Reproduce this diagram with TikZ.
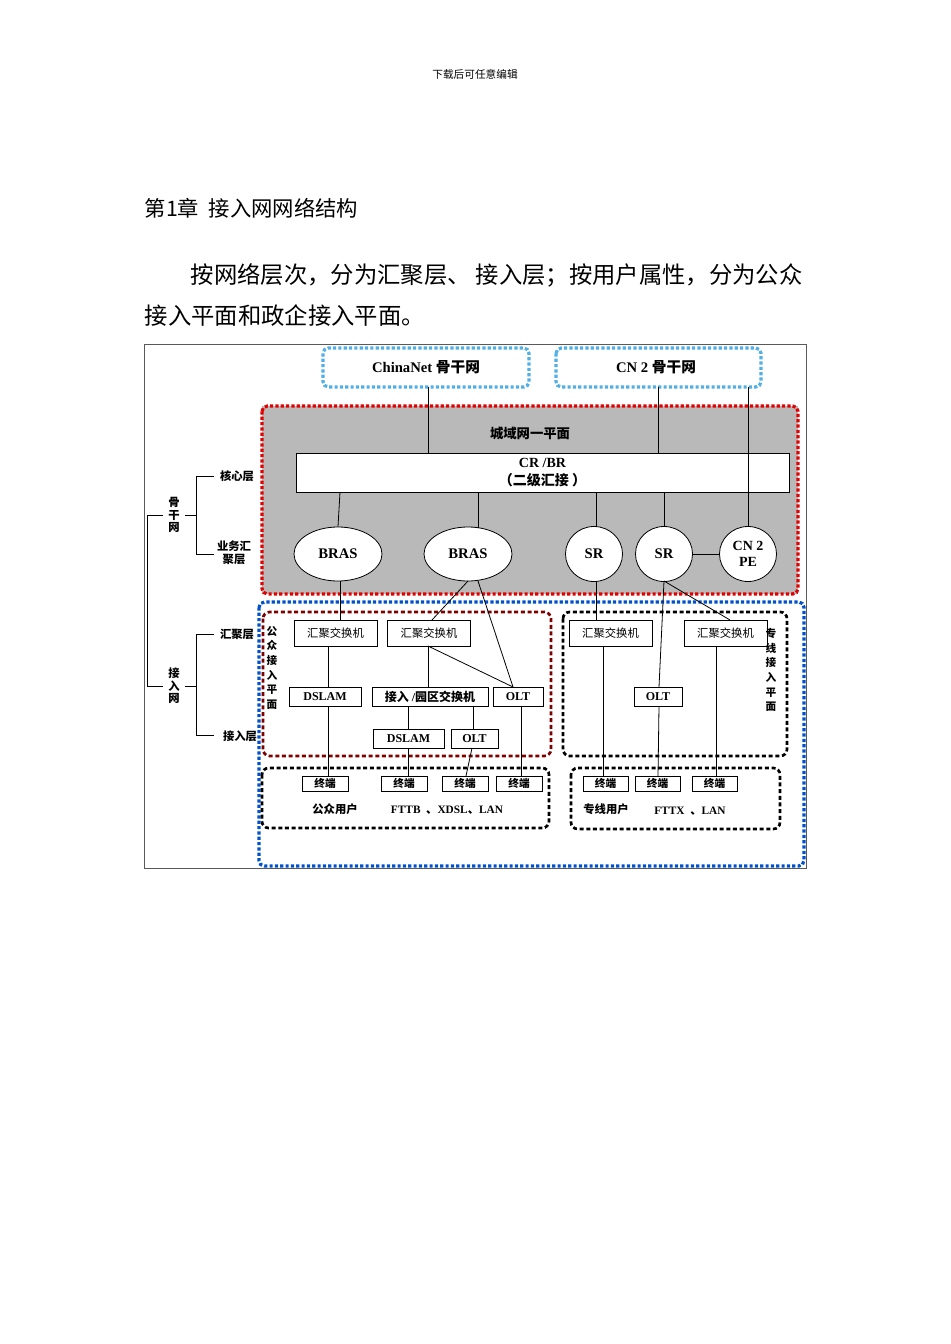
\documentclass[tikz,border=0pt]{standalone}
\usepackage{fontspec}
\setmainfont{Liberation Serif}
\newfontfamily\cjk{Noto Sans CJK SC}
\usetikzlibrary{shapes.geometric}
\begin{document}
\begin{tikzpicture}[x=0.75pt,y=-0.75pt,
  box/.style={draw,fill=white,line width=0.6pt,inner sep=0pt},
  oval/.style={draw,fill=white,ellipse,line width=0.6pt,inner sep=0pt,font=\bfseries\fontsize{11}{12}\selectfont},
  dotc/.style={line width=2.4pt,dash pattern=on 2.4pt off 1.6pt,rounded corners=4pt},
  dashk/.style={line width=2pt,dash pattern=on 3pt off 2pt,rounded corners=5pt},
  ln/.style={line width=0.6pt},
  sm/.style={font=\cjk\bfseries\fontsize{8.5}{9.5}\selectfont,inner sep=0pt},
  vt/.style={font=\cjk\bfseries\fontsize{8.5}{9.5}\selectfont,align=center,inner sep=0pt}]
\useasboundingbox (0,0) rectangle (950,1344);
\fill[white] (0,0) rectangle (950,1344);
% page text
\node (hdr) at (475,74) {\cjk\fontsize{8}{9}\selectfont 下载后可任意编辑};
\node[anchor=west] (ttl) at (140,208) {\cjk\fontsize{16}{18}\selectfont 第1章\ \ 接入网网络结构};
\node[anchor=west] (p1) at (186,275) {\cjk\fontsize{17.5}{20}\selectfont 按网络层次，分为汇聚层、 接入层；按用户属性，分为公众};
\node[anchor=west] (p2) at (140,316) {\cjk\fontsize{17.5}{20}\selectfont 接入平面和政企接入平面。};
% frame
\draw[gray!70!black,line width=0.6pt] (144,344) rectangle (806,868);
% backbone boxes
\draw[dotc,cyan!80!blue!70] (323,348) rectangle (529,387);
\node (cn) at (426,367) {\bfseries\fontsize{11}{12}\selectfont ChinaNet {\cjk 骨干网}};
\draw[dotc,cyan!80!blue!70] (556,348) rectangle (761,387);
\node (cn2) at (656,367) {\bfseries\fontsize{11}{12}\selectfont CN 2 {\cjk 骨干网}};
% metro plane
\fill[gray!55] (262,406) rectangle (798,594);
\draw[dotc,red!90!black] (262,406) rectangle (798,594);
\node (mp) at (530,433) {\cjk\bfseries\fontsize{10}{11}\selectfont 城域网一平面};
\node[box,minimum width=493*0.75pt,minimum height=39*0.75pt,align=center,font=\bfseries\fontsize{10.5}{14}\selectfont] (crbr) at (542.5,472.5) {CR /BR\\{\cjk （二级汇接 ）}};
\node[oval,minimum width=88*0.75pt,minimum height=54*0.75pt] (bras1) at (338,554) {BRAS};
\node[oval,minimum width=88*0.75pt,minimum height=54*0.75pt] (bras2) at (468,554) {BRAS};
\node[oval,minimum width=57*0.75pt,minimum height=55*0.75pt] (sr1) at (594,554) {SR};
\node[oval,minimum width=57*0.75pt,minimum height=55*0.75pt] (sr2) at (664,554) {SR};
\node[oval,minimum width=57*0.75pt,minimum height=55*0.75pt,align=center,font=\bfseries\fontsize{10.5}{12}\selectfont] (pe) at (748,554) {CN 2\\PE};
\draw[ln] (428,387) -- (428,453);
\draw[ln] (658,387) -- (658,453);
\draw[ln] (748,387) -- (pe.north);
\draw[ln] (340,492) -- (bras1.north);
\draw[ln] (478,492) -- (478,527.5);
\draw[ln] (596,492) -- (596,526.5);
\draw[ln] (664,492) -- (sr2.north);
\draw[ln] (sr2.east) -- (pe.west);
% access
\draw[dotc,blue!60!cyan!80!black] (259,602) rectangle (804,866);
\draw[line width=2pt,dash pattern=on 3pt off 2pt,red!50!black,rounded corners=5pt] (263,612) rectangle (551,756);
\draw[dashk] (563,612) rectangle (787,756);
\draw[dashk] (262,768) rectangle (549,828);
\draw[dashk] (571,768) rectangle (780,829);
\tikzset{sw/.style={box,minimum width=83*0.75pt,minimum height=26*0.75pt,font=\cjk\fontsize{8.5}{9}\selectfont}}
\node[sw] (l1) at (335.5,633) {汇聚交换机};
\node[sw] (l2) at (429,633) {汇聚交换机};
\node[sw] (r1) at (610.5,633) {汇聚交换机};
\node[sw] (r2) at (725.5,633) {汇聚交换机};
\tikzset{eq/.style={box,minimum height=19*0.75pt,font=\bfseries\fontsize{9}{10}\selectfont}}
\node[eq,minimum width=72*0.75pt] (ds1) at (325,696.5) {DSLAM};
\node[eq,minimum width=116*0.75pt] (asw) at (430,696.5) {{\cjk 接入} /{\cjk 园区交换机}};
\node[eq,minimum width=50*0.75pt] (olt1) at (518,696.5) {OLT};
\node[eq,minimum width=48*0.75pt] (olt2) at (658,696.5) {OLT};
\node[eq,minimum width=71*0.75pt] (ds2) at (408.5,738.5) {DSLAM};
\node[eq,minimum width=47*0.75pt] (olt3) at (474.5,738.5) {OLT};
\tikzset{tm/.style={box,minimum width=46*0.75pt,minimum height=15*0.75pt,font=\cjk\bfseries\fontsize{8}{9}\selectfont}}
\node[tm] (t1) at (325,783.5) {终端};
\node[tm] (t2) at (404,783.5) {终端};
\node[tm] (t3) at (465,783.5) {终端};
\node[tm] (t4) at (519,783.5) {终端};
\node[tm,minimum width=45*0.75pt] (t5) at (605.5,783.5) {终端};
\node[tm,minimum width=45*0.75pt] (t6) at (657.5,783.5) {终端};
\node[tm,minimum width=45*0.75pt] (t7) at (714.5,783.5) {终端};
\node[sm] (pu) at (335,809) {公众用户};
\node[font=\bfseries\fontsize{8.5}{9}\selectfont] (pux) at (447,810) {FTTB \ {\cjk 、}XDSL{\cjk 、}LAN};
\node[sm] (zu) at (606,809) {专线用户};
\node[font=\bfseries\fontsize{8.5}{9}\selectfont] (zux) at (690,811) {FTTX \ {\cjk 、}LAN};
% links
\draw[ln] (340,581) -- (340,620);
\draw[ln] (468,581) -- (432,620);
\draw[ln] (478,581) -- (513,687);
\draw[ln] (596,581) -- (596,620);
\draw[ln] (664,581) -- (659,687);
\draw[ln] (664,581) -- (730,620);
\draw[ln] (328,646) -- (328,687);
\draw[ln] (328,706) -- (328,776);
\draw[ln] (428,646) -- (428,687);
\draw[ln] (428,646) -- (513,687);
\draw[ln] (408,706) -- (408,729);
\draw[ln] (473,706) -- (473,729);
\draw[ln] (408,748) -- (408,776);
\draw[ln] (472,748) -- (466,776);
\draw[ln] (521,706) -- (521,776);
\draw[ln] (603,646) -- (603,776);
\draw[ln] (659,706) -- (658,776);
\draw[ln] (716,646) -- (716,776);
% left hierarchy
\node[vt] (gg) at (174,515) {骨\\干\\网};
\node[sm] (hx) at (237,476) {核心层};
\node[vt] (yw) at (234,553) {业务汇\\聚层};
\node[vt] (jr) at (174,686) {接\\入\\网};
\node[sm] (hj) at (237,634) {汇聚层};
\node[sm] (jc) at (240,736) {接入层};
\draw[ln] (214,476) -- (196,476) -- (196,554) -- (214,554);
\draw[ln] (185,515) -- (196,515);
\draw[ln] (163,515) -- (147,515) -- (147,686) -- (163,686);
\draw[ln] (214,634) -- (196,634) -- (196,735) -- (214,735);
\draw[ln] (185,686) -- (196,686);
\node[vt,font=\cjk\bfseries\fontsize{8}{11}\selectfont] (gz) at (272,668) {公\\众\\接\\入\\平\\面};
\node[vt,font=\cjk\bfseries\fontsize{8}{11}\selectfont] (zx) at (771,670) {专\\线\\接\\入\\平\\面};
\end{tikzpicture}
\end{document}
